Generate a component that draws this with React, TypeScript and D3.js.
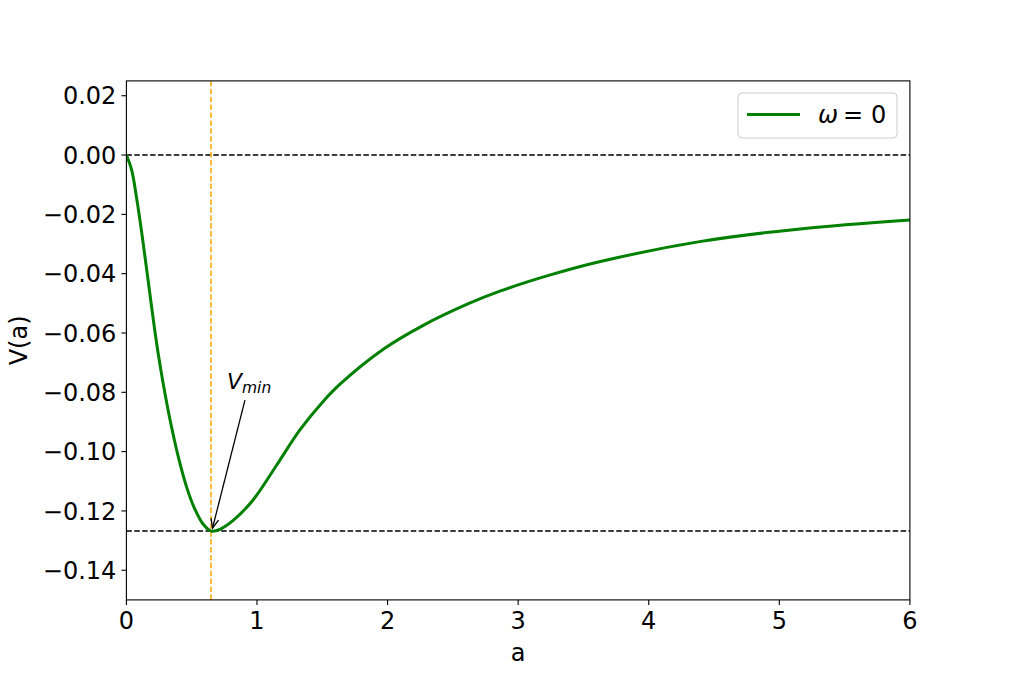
import React from "react";
import * as d3 from "d3";

const xTicks = [0, 1, 2, 3, 4, 5, 6];
const yTicks = [0.02, 0.0, -0.02, -0.04, -0.06, -0.08, -0.1, -0.12, -0.14];
const aValues = [0, 0.04, 0.08, 0.12, 0.17, 0.22, 0.26, 0.3, 0.34, 0.4, 0.46, 0.52, 0.59, 0.65, 0.72, 0.82, 0.97, 1.15, 1.33, 1.5, 1.64, 1.97, 2.27, 2.61, 2.86, 3.24, 3.63, 4.39, 5.16, 6.0];
const vValues = [0, -0.005, -0.015, -0.027, -0.0435, -0.06, -0.0715, -0.0815, -0.0905, -0.1022, -0.1118, -0.119, -0.1246, -0.1268, -0.1261, -0.1231, -0.1163, -0.1046, -0.0926, -0.0834, -0.0771, -0.0654, -0.0575, -0.0503, -0.0459, -0.0405, -0.0359, -0.0292, -0.0249, -0.0219];
const aMin = 0.648;
const vMin = -0.1268;
const annotText = { a: 0.77, v: -0.0789 };

const W = 1011, H = 674;
const L = 126.4, R = 909.9, T = 80.9, B = 599.9;
const FONT = "DejaVu Sans, sans-serif";
const FS = 24;

export default function App() {
  const x = d3.scaleLinear().domain([0, 6]).range([L, R]);
  const y = d3.scaleLinear().domain([-0.15, 0.025]).range([B, T]);
  const pts = aValues.map((a, i) => [a, vValues[i]] as [number, number]);
  const line = d3.line<[number, number]>().x(d => x(d[0])).y(d => y(d[1])).curve(d3.curveCatmullRom.alpha(0.5));
  const fmt = (v: number) => (v < 0 ? "\u2212" : "") + Math.abs(v).toFixed(2);

  const tx = x(annotText.a), ty = y(annotText.v);
  const sx = tx + 18, sy = ty + 11;
  const ex = x(aMin) + 1.5, ey = y(vMin) - 3;
  const ang = Math.atan2(ey - sy, ex - sx);
  const hl = 10, ha = 0.4;
  const h1 = [ex - hl * Math.cos(ang - ha), ey - hl * Math.sin(ang - ha)];
  const h2 = [ex - hl * Math.cos(ang + ha), ey - hl * Math.sin(ang + ha)];

  return (
    <div style={{ position: "absolute", left: 0, top: 0 }}>
      <svg width={W} height={H} style={{ display: "block", background: "#fff" }} fontFamily={FONT}>
        <defs>
          <clipPath id="plot"><rect x={L} y={T} width={R - L} height={B - T} /></clipPath>
        </defs>
        <g clipPath="url(#plot)">
          <line x1={L} x2={R} y1={y(0)} y2={y(0)} stroke="#000" strokeWidth={1.5} strokeDasharray="5.5,2.4" />
          <line x1={L} x2={R} y1={y(vMin)} y2={y(vMin)} stroke="#000" strokeWidth={1.5} strokeDasharray="5.5,2.4" />
          <line x1={x(aMin)} x2={x(aMin)} y1={T} y2={B} stroke="#FFA500" strokeWidth={1.5} strokeDasharray="5.5,2.4" />
          <path d={line(pts) || ""} fill="none" stroke="#008000" strokeWidth={3} strokeLinejoin="round" />
        </g>
        <line x1={sx} y1={sy} x2={ex} y2={ey} stroke="#000" strokeWidth={1.3} />
        <polyline points={`${h1[0]},${h1[1]} ${ex},${ey} ${h2[0]},${h2[1]}`} fill="none" stroke="#000" strokeWidth={1.3} />
        <text x={tx} y={ty} fontSize={22} fontStyle="italic">V<tspan fontSize={15.5} dy={4}>min</tspan></text>
        <rect x={L} y={T} width={R - L} height={B - T} fill="none" stroke="#000" strokeWidth={1.1} />
        {xTicks.map(t => (
          <g key={"x" + t}>
            <line x1={x(t)} x2={x(t)} y1={B} y2={B + 5} stroke="#000" strokeWidth={1.1} />
            <text x={x(t)} y={B + 29} fontSize={FS} textAnchor="middle">{t}</text>
          </g>
        ))}
        {yTicks.map(t => (
          <g key={"y" + t}>
            <line x1={L - 5} x2={L} y1={y(t)} y2={y(t)} stroke="#000" strokeWidth={1.1} />
            <text x={L - 10} y={y(t)} dy="0.36em" fontSize={FS} textAnchor="end">{fmt(t)}</text>
          </g>
        ))}
        <text x={(L + R) / 2} y={661} fontSize={FS} textAnchor="middle">a</text>
        <text transform={`translate(27,${(T + B) / 2}) rotate(-90)`} fontSize={FS} textAnchor="middle">V(a)</text>
        <rect x={738} y={93} width={159} height={45} rx={4} fill="#fff" fillOpacity={0.8} stroke="#cccccc" strokeWidth={1} />
        <line x1={747} x2={800} y1={114.5} y2={114.5} stroke="#008000" strokeWidth={3} />
        <text y={123} fontSize={FS}>
          <tspan x={818} fontStyle="italic">ω</tspan>
          <tspan x={843}>=</tspan>
          <tspan x={871}>0</tspan>
        </text>
      </svg>
    </div>
  );
}
